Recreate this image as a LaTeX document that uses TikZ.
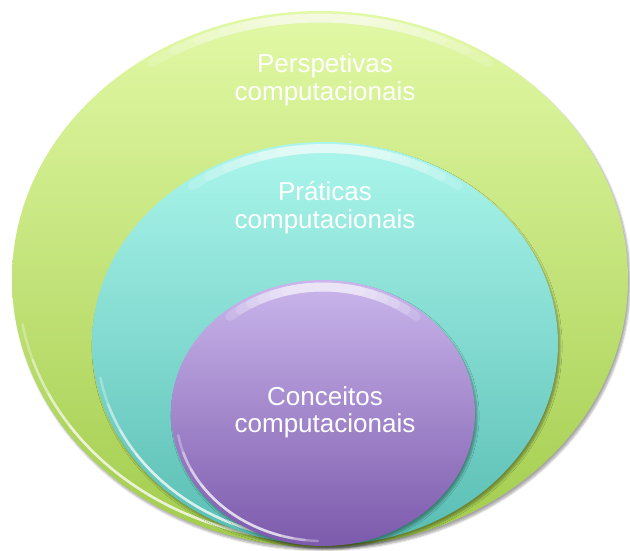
\documentclass[tikz,border=0pt]{standalone}
\usepackage{fontspec}
\setmainfont{Liberation Sans}
\usetikzlibrary{shadows.blur}
\definecolor{gTop}{HTML}{E2F9A6}
\definecolor{gBot}{HTML}{A2CC4C}
\definecolor{cTop}{HTML}{ABF6EC}
\definecolor{cBot}{HTML}{58BDB3}
\definecolor{pTop}{HTML}{CAB6EC}
\definecolor{pBot}{HTML}{7C5AAC}
\begin{document}
\begin{tikzpicture}[x=1pt,y=1pt,
  lbl/.style={text=white, align=center, inner sep=0pt, font=\fontsize{26}{27.5}\selectfont},
  hl/.style={white, line width=2.5pt, line cap=round, opacity=0.3},
  glow/.style={white, line width=9pt, line cap=round, opacity=0.17},
  shd/.style={blur shadow={shadow xshift=2pt, shadow yshift=-3pt, shadow opacity=35, shadow blur steps=6}}]
\useasboundingbox (0,0) rectangle (630,550);
% outer ellipse
\path[shd, top color=gTop, bottom color=gBot] (320,271) ellipse[x radius=308, y radius=268];
\foreach \k in {0,...,5}{
  \draw[glow] ([shift={(56+5*\k:301 and 261)}]320,271) arc[start angle=56+5*\k, end angle=124-5*\k, x radius=301, y radius=261];
}
\foreach \k in {0,...,3}{
  \draw[hl] ([shift={(190+8*\k:302 and 262)}]320,271) arc[start angle=190+8*\k, end angle=268-5*\k, x radius=302, y radius=262];
}
% middle ellipse
\path[shd, top color=cTop, bottom color=cBot] (325,206.5) ellipse[x radius=233, y radius=201.5];
\foreach \k in {0,...,5}{
  \draw[glow] ([shift={(54+5*\k:226 and 195)}]325,206.5) arc[start angle=54+5*\k, end angle=126-5*\k, x radius=226, y radius=195];
}
\foreach \k in {0,...,3}{
  \draw[hl] ([shift={(190+8*\k:228 and 197)}]325,206.5) arc[start angle=190+8*\k, end angle=268-5*\k, x radius=228, y radius=197];
}
% inner ellipse
\path[shd, top color=pTop, bottom color=pBot] (323,137) ellipse[x radius=152, y radius=133];
\foreach \k in {0,...,5}{
  \draw[glow] ([shift={(50+5*\k:145 and 126)}]323,137) arc[start angle=50+5*\k, end angle=130-5*\k, x radius=145, y radius=126];
}
\foreach \k in {0,...,3}{
  \draw[hl] ([shift={(190+8*\k:147 and 128)}]323,137) arc[start angle=190+8*\k, end angle=268-5*\k, x radius=147, y radius=128];
}
% labels
\node[lbl] (persp) at (325,470) {Perspetivas\\computacionais};
\node[lbl] (prat) at (325,342.5) {Práticas\\computacionais};
\node[lbl] (conc) at (325,137.6) {Conceitos\\computacionais};
\end{tikzpicture}
\end{document}
